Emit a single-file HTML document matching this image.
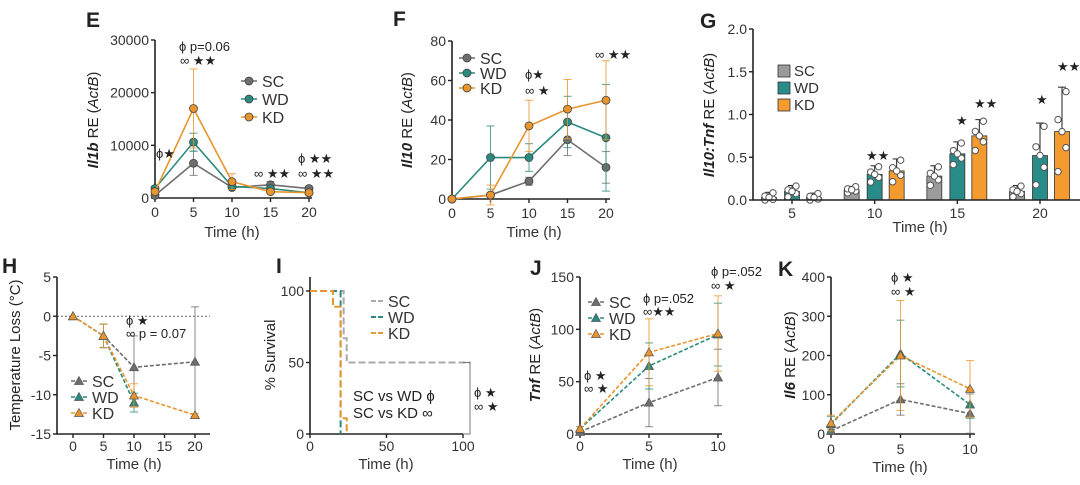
<!DOCTYPE html>
<html><head><meta charset="utf-8">
<style>
html,body{margin:0;padding:0;background:#fff;}
svg{display:block;font-family:"Liberation Sans",sans-serif;}
</style></head>
<body>
<svg id="fig" width="1080" height="485" viewBox="0 0 1080 485"></svg>
<script>
// ---------- DATA ----------
const groups = ["SC","WD","KD"];
// Panel E (Il1b)
const eTimes = [0,5,10,15,20];
const eSC = [500,6600,2000,2500,1800];
const eWD = [1800,10600,2200,1800,1000];
const eKD = [1200,17000,3100,1200,1000];
const eErrSC = [300,2300,400,600,300];
const eErrWD = [400,1700,500,500,300];
const eErrKD = [300,7500,1500,300,300];
const eTicks = [0,10000,20000,30000];
// Panel F (Il10)
const fTimes = [0,5,10,15,20];
const fSC = [0,2,9,30,16];
const fWD = [0,21,21,39,31];
const fKD = [0,2,37,45.5,50];
const fErrSC = [0,1,2,8,8];
const fErrWD = [0,16,7,13,27];
const fErrKD = [0,5,13,15,20];
const fTicks = [0,20,40,60,80];
// Panel G (Il10:Tnf bars)
const gCats = [5,10,15,20];
const gSC = [0.03,0.12,0.28,0.10];
const gWD = [0.10,0.30,0.54,0.52];
const gKD = [0.03,0.34,0.75,0.80];
const gErrSC = [0.06,0.04,0.12,0.07];
const gErrWD = [0.07,0.10,0.14,0.38];
const gErrKD = [0.05,0.14,0.19,0.52];
const gTicks = [0,0.5,1.0,1.5,2.0];
const gTickLabels = ["0.0","0.5","1.0","1.5","2.0"];
// Panel H (temperature loss)
const hTimes = [0,5,10,20];
const hSC = [0,-2.5,-6.5,-5.8];
const hWD = [0,-2.5,-11,null];
const hKD = [0,-2.5,-10.1,-12.6];
const hErrSC = [0,1.5,4,7];
const hErrWD = [0,1.5,1.2,0];
const hErrKD = [0,1.5,1.5,0.2];
const hTicks = [5,0,-5,-10,-15];
const hXTicks = [0,5,10,15,20];
// Panel I (survival, step points)
const iSCx = [0,22,22,24,24,105];
const iSCy = [100,100,67,67,50,50];
const iWDx = [0,20,20];
const iWDy = [100,100,0];
const iKDx = [0,15,15,20,20,24,24];
const iKDy = [100,100,89,89,11,11,0];
const iTicks = [0,50,100];
const iXTicks = [0,50,100];
// Panel J (Tnf)
const jTimes = [0,5,10];
const jSC = [2,30,54];
const jWD = [5,65,95];
const jKD = [5,78,96];
const jErrSC = [1,23,27];
const jErrWD = [2,22,30];
const jErrKD = [2,32,36];
const jTicks = [0,50,100,150];
// Panel K (Il6)
const kTimes = [0,5,10];
const kSC = [8,88,52];
const kWD = [25,205,75];
const kKD = [28,200,115];
const kErrSC = [5,40,50];
const kErrWD = [20,85,35];
const kErrKD = [20,140,72];
const kTicks = [0,100,200,300,400];

// ---------- DRAWING ----------
const NS="http://www.w3.org/2000/svg";
const svg=document.getElementById('fig');
const COL={SC:"#6e6e6e",WD:"#2b8a7f",KD:"#e8952e"};
const BAR={SC:"#9b9b9b",WD:"#2a8c88",KD:"#f39b2f"};
function el(tag,attrs,parent,text){
  const e=document.createElementNS(NS,tag);
  for(const k in attrs)e.setAttribute(k,attrs[k]);
  if(text!==undefined)e.textContent=text;
  (parent||svg).appendChild(e);return e;
}
function lin(d0,d1,r0,r1){return v=>r0+(v-d0)*(r1-r0)/(d1-d0);}
function txt(x,y,s,size,opts,parent){
  const t=el('text',Object.assign({x:x,y:y,'font-size':size,fill:'#222'},opts||{}),parent,s);
  return t;
}
function axes(g,x0,x1,y0,y1){
  const a=el('path',{d:`M${x0},${y1}V${y0}H${x1}`,stroke:'#222','stroke-width':1.6,fill:'none'},g);
  
  
}
function yTicks(g,xs,ys,ticks,labels){
  ticks.forEach((t,i)=>{
    const y=ys(t);
    el('line',{x1:xs-4,x2:xs,y1:y,y2:y,stroke:'#222','stroke-width':1.4},g);
    const lab=txt(xs-6,y+5,labels?labels[i]:String(t),14,{'text-anchor':'end',fill:'#333'},g);
    
    
  });
}
function xTicks(g,ys,xsf,ticks,labels,ly){
  ticks.forEach((t,i)=>{
    const x=xsf(t);
    el('line',{x1:x,x2:x,y1:ys,y2:ys+4,stroke:'#222','stroke-width':1.4},g);
    const lab=txt(x,ly,labels?labels[i]:String(t),14,{'text-anchor':'middle',fill:'#333'},g);
    
    
  });
}
function marker(g,x,y,c,shape){
  if(shape==='tri'){
    el('path',{d:`M${x},${y-4.5}L${x+4.5},${y+3.5}L${x-4.5},${y+3.5}Z`,fill:c,stroke:'#555','stroke-width':0.7},g);
  }else{
    el('circle',{cx:x,cy:y,r:4,fill:c,stroke:'#444','stroke-width':0.8},g);
  }
}
function series(g,name,times,vals,errs,xs,ys,shape,dash){
  const c=COL[name];
  const sg=el('g',{},g);
  
  
  // error bars
  times.forEach((t,i)=>{
    if(vals[i]===null||!errs[i])return;
    const x=xs(t),yt=ys(vals[i]+errs[i]),yb=ys(vals[i]-errs[i]);
    el('line',{x1:x,x2:x,y1:yt,y2:yb,stroke:c,'stroke-width':1,opacity:0.8},sg);
    el('line',{x1:x-4,x2:x+4,y1:yt,y2:yt,stroke:c,'stroke-width':1,opacity:0.8},sg);
    el('line',{x1:x-4,x2:x+4,y1:yb,y2:yb,stroke:c,'stroke-width':1,opacity:0.8},sg);
  });
  let d="";
  times.forEach((t,i)=>{if(vals[i]===null)return;d+=(d?"L":"M")+xs(t)+","+ys(vals[i]);});
  const ln=el('path',{d:d,stroke:c,'stroke-width':1.6,fill:'none'},sg);
  if(dash)ln.setAttribute('stroke-dasharray',dash);
  times.forEach((t,i)=>{if(vals[i]===null)return;marker(sg,xs(t),ys(vals[i]),c,shape);});
}
function legend(g,x,y,dy,shape,dash){
  groups.forEach((n,i)=>{
    const lg=el('g',{},g);
    
    
    const yy=y+i*dy;
    const l=el('line',{x1:x-8,x2:x+8,y1:yy,y2:yy,stroke:COL[n],'stroke-width':1.5},lg);
    if(dash)l.setAttribute('stroke-dasharray',dash);
    if(shape)marker(lg,x,yy,COL[n],shape);
    txt(x+13,yy+6,n,16,{fill:'#333'},lg);
  });
}
function panelLetter(s,x,y){
  const t=txt(x,y,s,21,{'font-weight':'bold',fill:'#222'});
  
  
}
function yLabel(g,x,y,parts){
  const t=el('text',{transform:`translate(${x},${y}) rotate(-90)`,'text-anchor':'middle','font-size':15,fill:'#222'},g);
  parts.forEach(p=>{const s=el('tspan',p.a||{},t,p.s);});
  
  
}
function xLabel(g,x,y,s){
  const t=txt(x,y,s||"Time (h)",15,{'text-anchor':'middle',fill:'#333'},g);
  
  
}
function ann(g,x,y,s,size){
  const t=txt(x,y,s,size||14,{fill:'#222'},g);
  
  
}

// ----- Panel E -----
(function(){
  const g=el('g',{});
  const xs=lin(0,20,155,309), ys=lin(0,30000,198,40);
  axes(g,155,312,198,40);
  yTicks(g,155,ys,eTicks);
  xTicks(g,198,xs,eTimes,null,217);
  xLabel(g,232,237);
  yLabel(g,98,120,[{s:"Il1b",a:{'font-weight':'bold','font-style':'italic'}},{s:" RE ("},{s:"ActB",a:{'font-style':'italic'}},{s:")"}]);
  series(g,"SC",eTimes,eSC,eErrSC,xs,ys,'circ');
  series(g,"WD",eTimes,eWD,eErrWD,xs,ys,'circ');
  series(g,"KD",eTimes,eKD,eErrKD,xs,ys,'circ');
  legend(g,249,81,18,'circ');
  ann(g,179,51,"ϕ p=0.06",13);ann(g,180,65,"∞ ★★",13);
  ann(g,156,158,"ϕ★",13);
  ann(g,254,178,"∞ ★★",13);
  ann(g,298,163,"ϕ ★★",13);ann(g,298,178,"∞ ★★",13);
})();
panelLetter("E",86,27);

// ----- Panel F -----
(function(){
  const g=el('g',{});
  const xs=lin(0,20,452,606), ys=lin(0,80,199,41);
  axes(g,452,610,199,41);
  yTicks(g,452,ys,fTicks);
  xTicks(g,199,xs,fTimes,null,218);
  xLabel(g,534,237);
  yLabel(g,412,120,[{s:"Il10",a:{'font-weight':'bold','font-style':'italic'}},{s:" RE ("},{s:"ActB",a:{'font-style':'italic'}},{s:")"}]);
  series(g,"SC",fTimes,fSC,fErrSC,xs,ys,'circ');
  series(g,"WD",fTimes,fWD,fErrWD,xs,ys,'circ');
  series(g,"KD",fTimes,fKD,fErrKD,xs,ys,'circ');
  legend(g,467,58,15,'circ');
  ann(g,525,79,"ϕ★",13);ann(g,525,95,"∞ ★",13);
  ann(g,595,59,"∞ ★★",13);
})();
panelLetter("F",393,26);

// ----- Panel G -----
(function(){
  const g=el('g',{});
  const cx=lin(5,20,792,1040), ys=lin(0,2,200,29);
  const off={SC:-23,WD:0,KD:22};
  const data={SC:gSC,WD:gWD,KD:gKD}, errs={SC:gErrSC,WD:gErrWD,KD:gErrKD};
  groups.forEach(n=>{
    gCats.forEach((c,i)=>{
      const x=cx(c)+off[n], v=data[n][i], e=errs[n][i];
      const b=el('rect',{x:x-7.5,y:ys(v),width:15,height:ys(0)-ys(v),fill:BAR[n],stroke:'#333','stroke-width':0.8},g);
      
      
      el('line',{x1:x,x2:x,y1:ys(v),y2:ys(v+e),stroke:'#222','stroke-width':1},g);
      el('line',{x1:x-4,x2:x+4,y1:ys(v+e),y2:ys(v+e),stroke:'#222','stroke-width':1},g);
      // scatter dots around mean
      [-1,-0.4,0.3,1,0].forEach((k,j)=>{
        const dv=Math.max(0,v+k*e*0.9);
        el('circle',{cx:x+(j%2?4:-4)*(j===4?0:1),cy:ys(dv),r:3.2,fill:'#fff',stroke:'#555','stroke-width':1},g);
      });
    });
  });
  axes(g,753,1080,200,29);
  yTicks(g,753,ys,gTicks,gTickLabels);
  xTicks(g,200,cx,gCats,null,218);
  xLabel(g,920,232);
  yLabel(g,714,115,[{s:"Il10:Tnf",a:{'font-weight':'bold','font-style':'italic'}},{s:" RE ("},{s:"ActB",a:{'font-style':'italic'}},{s:")"}]);
  groups.forEach((n,i)=>{
    const lg=el('g',{},g);
    
    
    el('rect',{x:778,y:65+i*17,width:12,height:12,fill:BAR[n],stroke:'#333','stroke-width':0.8},lg);
    txt(794,76+i*17,n,15,{fill:'#333'},lg);
  });
  ann(g,866,160,"★★",13);ann(g,956,125,"★",13);ann(g,974,108,"★★",13);
  ann(g,1036,104,"★",13);ann(g,1057,71,"★★",13);
})();
panelLetter("G",700,28);

// ----- Panel H -----
(function(){
  const g=el('g',{});
  const xs=lin(0,20,73,195), ys=lin(5,-15,277,434);
  el('line',{x1:57,x2:210,y1:ys(0),y2:ys(0),stroke:'#666','stroke-width':1,'stroke-dasharray':'2,2'},g);
  axes(g,57,210,434,277);
  yTicks(g,57,ys,hTicks);
  xTicks(g,434,xs,hXTicks,null,451);
  xLabel(g,134,469);
  yLabel(g,20,355,[{s:"Temperature Loss (°C)"}]);
  series(g,"SC",hTimes,hSC,hErrSC,xs,ys,'tri','4,2');
  series(g,"WD",hTimes,hWD,hErrWD,xs,ys,'tri','4,2');
  series(g,"KD",hTimes,hKD,hErrKD,xs,ys,'tri','4,2');
  legend(g,79,381,16,'tri','4,2');
  ann(g,126,325,"ϕ ★",13);ann(g,126,338,"∞ p = 0.07",13);
})();
panelLetter("H",2,273);

// ----- Panel I -----
(function(){
  const g=el('g',{});
  const xs=lin(0,100,310,463), ys=lin(0,100,434,291);
  axes(g,310,463,434,277);
  yTicks(g,310,ys,iTicks);
  xTicks(g,434,xs,iXTicks,null,451);
  xLabel(g,386,469);
  yLabel(g,275,355,[{s:"% Survival"}]);
  const S=[["SC",iSCx,iSCy],["WD",iWDx,iWDy],["KD",iKDx,iKDy]];
  S.forEach(([n,X,Y])=>{
    let d="";X.forEach((v,i)=>{d+=(i?"L":"M")+xs(v)+","+ys(Y[i]);});
    const p=el('path',{d:d,stroke:COL[n]==="#6e6e6e"?"#aaa":COL[n],'stroke-width':2,fill:'none','stroke-dasharray':'7,3'},g);
    
    
  });
  groups.forEach((n,i)=>{
    const lg=el('g',{},g);
    
    
    const yy=301+i*16;
    el('line',{x1:371,x2:383,y1:yy,y2:yy,stroke:n==="SC"?"#aaa":COL[n],'stroke-width':2,'stroke-dasharray':'5,2'},lg);
    txt(388,yy+6,n,16,{fill:'#333'},lg);
  });
  el('path',{d:`M463,${ys(50)}H470V${ys(0)}H463`,stroke:'#777','stroke-width':1,fill:'none'},g);
  ann(g,353,401,"SC vs WD ϕ",15);ann(g,353,418,"SC vs KD ∞",15);
  ann(g,474,397,"ϕ ★",13);ann(g,474,411,"∞ ★",13);
})();
panelLetter("I",276,273);

// ----- Panel J -----
(function(){
  const g=el('g',{});
  const xs=lin(0,10,580,718), ys=lin(0,150,434,277);
  axes(g,580,722,434,277);
  yTicks(g,580,ys,jTicks);
  xTicks(g,434,xs,jTimes,null,451);
  xLabel(g,650,469);
  yLabel(g,540,355,[{s:"Tnf",a:{'font-weight':'bold','font-style':'italic'}},{s:" RE ("},{s:"ActB",a:{'font-style':'italic'}},{s:")"}]);
  series(g,"SC",jTimes,jSC,jErrSC,xs,ys,'tri','4,2');
  series(g,"WD",jTimes,jWD,jErrWD,xs,ys,'tri','4,2');
  series(g,"KD",jTimes,jKD,jErrKD,xs,ys,'tri','4,2');
  legend(g,596,302,16,'tri','4,2');
  ann(g,584,380,"ϕ ★",13);ann(g,584,393,"∞ ★",13);
  ann(g,643,303,"ϕ p=.052",13);ann(g,643,316,"∞★★",13);
  ann(g,711,276,"ϕ p=.052",13);ann(g,711,290,"∞ ★",13);
})();
panelLetter("J",530,275);

// ----- Panel K -----
(function(){
  const g=el('g',{});
  const xs=lin(0,10,831,970), ys=lin(0,400,434,277);
  axes(g,831,975,434,277);
  yTicks(g,831,ys,kTicks);
  xTicks(g,434,xs,kTimes,null,454);
  xLabel(g,900,472);
  yLabel(g,795,355,[{s:"Il6",a:{'font-weight':'bold','font-style':'italic'}},{s:" RE ("},{s:"ActB",a:{'font-style':'italic'}},{s:")"}]);
  series(g,"SC",kTimes,kSC,kErrSC,xs,ys,'tri','4,2');
  series(g,"WD",kTimes,kWD,kErrWD,xs,ys,'tri','4,2');
  series(g,"KD",kTimes,kKD,kErrKD,xs,ys,'tri','4,2');
  ann(g,891,282,"ϕ ★",13);ann(g,891,296,"∞ ★",13);
})();
panelLetter("K",778,276);
</script>
</body></html>
